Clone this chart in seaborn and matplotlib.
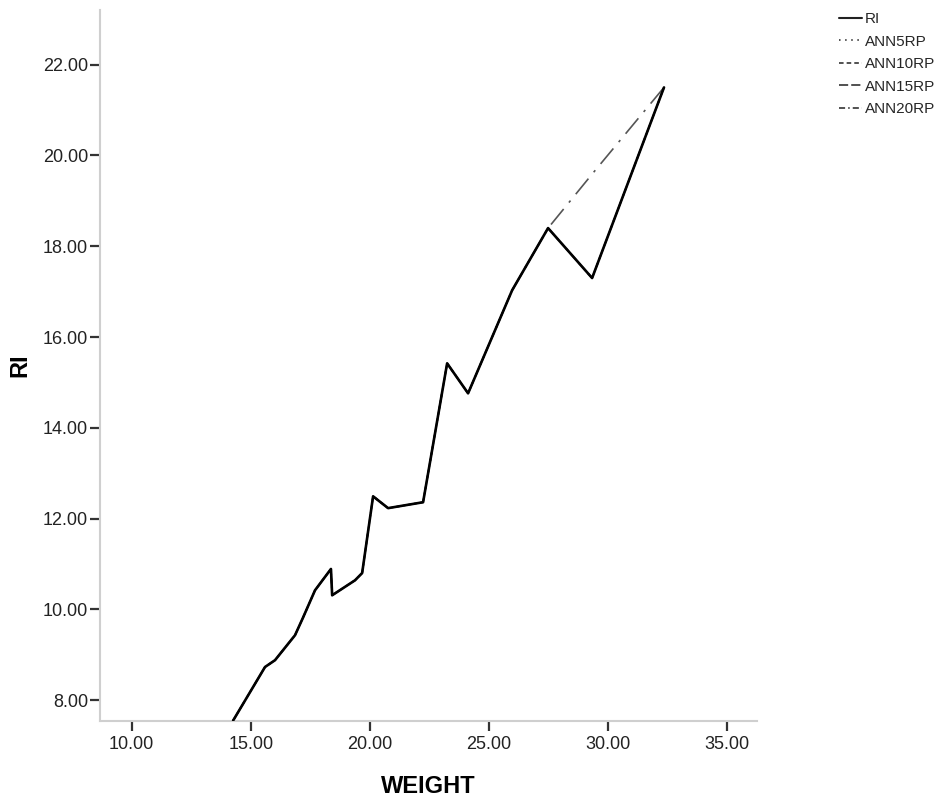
import matplotlib
matplotlib.use("Agg")
import matplotlib.pyplot as plt
import seaborn as sns
import pandas as pd
from matplotlib.lines import Line2D

weight = [14.26, 15.60, 16.02, 16.86, 17.19, 17.70, 18.37, 18.42, 19.38, 19.68,
          20.14, 20.77, 22.24, 23.25, 24.13, 25.98, 27.49, 29.34, 32.36]
ri = [7.55, 8.73, 8.88, 9.43, 9.81, 10.42, 10.89, 10.31, 10.64, 10.80,
      12.49, 12.23, 12.36, 15.42, 14.76, 17.03, 18.40, 17.30, 21.50]
ann5rp = [7.55, 8.73, 8.88, 9.43, 9.81, 10.42, 10.89, 10.31, 10.64, 10.80,
          12.49, 12.23, 12.36, 15.42, 14.76, 17.03, 18.40, 17.30, 21.50]
ann10rp = [7.55, 8.73, 8.88, 9.43, 9.81, 10.42, 10.89, 10.31, 10.64, 10.80,
           12.49, 12.23, 12.36, 15.42, 14.76, 17.03, 18.40, 17.30, 21.50]
ann15rp = [7.55, 8.73, 8.88, 9.43, 9.81, 10.42, 10.89, 10.31, 10.64, 10.80,
           12.49, 12.23, 12.36, 15.42, 14.76, 17.03, 18.40, 17.30, 21.50]
ann20rp = [7.55, 8.73, 8.88, 9.43, 9.81, 10.42, 10.89, 10.31, 10.64, 10.80,
           12.49, 12.23, 12.36, 15.42, 14.76, 17.03, 18.40, 19.59, 21.50]

series_names = ["RI", "ANN5RP", "ANN10RP", "ANN15RP", "ANN20RP"]
series_vals = [ri, ann5rp, ann10rp, ann15rp, ann20rp]
xticks = [10, 15, 20, 25, 30, 35]
yticks = [8, 10, 12, 14, 16, 18, 20, 22]

sns.set_style("white")
plt.rcParams['font.family'] = ['Liberation Sans', 'DejaVu Sans']

fig = plt.figure(figsize=(9.42, 8), dpi=100)
ax = fig.add_axes([0.1062, 0.09875, 0.6975, 0.889])

styles = {
    "RI": dict(ls="-", lw=1.9, color="black"),
    "ANN5RP": dict(ls=(0, (1, 3)), lw=1.2, color="#333333"),
    "ANN10RP": dict(ls=(0, (3, 2)), lw=1.2, color="#333333"),
    "ANN15RP": dict(ls=(0, (6, 2)), lw=1.2, color="#333333"),
    "ANN20RP": dict(ls=(0, (12, 5, 1.5, 5)), lw=1.2, color="#555555"),
}

for name, vals in list(zip(series_names, series_vals))[::-1]:
    df = pd.DataFrame({"WEIGHT": weight, "val": vals})
    st = styles[name]
    sns.lineplot(data=df, x="WEIGHT", y="val", ax=ax, color=st["color"],
                 linewidth=st["lw"], linestyle=st["ls"], sort=False,
                 estimator=None, legend=False, zorder=3 if name == "RI" else 2)

ax.set_xlim(8.67, 36.27)
ax.set_ylim(7.54, 23.21)
ax.set_xticks(xticks)
ax.set_xticklabels([f"{v:.2f}" for v in xticks], fontsize=13)
ax.set_yticks(yticks)
ax.set_yticklabels([f"{v:.2f}" for v in yticks], fontsize=13)
ax.tick_params(axis="both", which="major", direction="out", bottom=True, left=True,
               length=7.5, width=1.6, color="#333333", labelcolor="#222222")
ax.tick_params(axis="x", pad=3)
ax.tick_params(axis="y", pad=1)
for s in ["top", "right"]:
    ax.spines[s].set_visible(False)
for s in ["left", "bottom"]:
    ax.spines[s].set_color("#cfcfcf")
    ax.spines[s].set_linewidth(1.5)

ax.set_xlabel("WEIGHT", fontsize=17, fontweight="bold", labelpad=16, color="black")
ax.set_ylabel("RI", fontsize=17, fontweight="bold", labelpad=8, color="black")

handles = [Line2D([0], [0], color="#222222", lw=(1.5 if n == "RI" else 1.1),
                  ls=(st["ls"] if n != "ANN20RP" else (0, (4, 2, 1, 2))))
           for n, st in styles.items()]
fig.legend(handles, series_names, loc="upper left", bbox_to_anchor=(0.880, 0.997),
           frameon=False, fontsize=11, handlelength=1.5, handletextpad=0.2,
           labelspacing=0.55, borderaxespad=0.25)

fig.savefig("out.png", dpi=100)
